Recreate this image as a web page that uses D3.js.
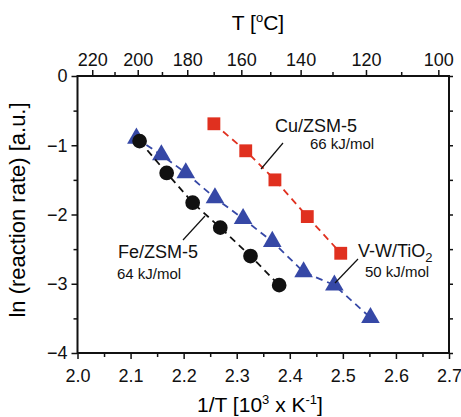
<!DOCTYPE html>
<html>
<head>
<meta charset="utf-8">
<script src="https://cdn.jsdelivr.net/npm/d3@7"></script>
<style>
  body { margin: 0; background: #fff; }
  svg { font-family: "Liberation Sans", Arial, sans-serif; }
</style>
</head>
<body>
<div id="chart"></div>
<script>
// Set SVG area dimensions
var svgWidth = 461;
var svgHeight = 417;

// Data: 1/T [10^3/K] and ln(rate)
var cuX = [2.257, 2.317, 2.372, 2.433, 2.496];
var cuY = [-0.69, -1.08, -1.50, -2.03, -2.56];
var vwX = [2.111, 2.158, 2.204, 2.259, 2.312, 2.367, 2.426, 2.484, 2.552];
var vwY = [-0.90, -1.14, -1.40, -1.76, -2.06, -2.39, -2.83, -3.02, -3.49];
var feX = [2.117, 2.168, 2.217, 2.269, 2.326, 2.380];
var feY = [-0.94, -1.40, -1.83, -2.19, -2.60, -3.02];

// tick labels
var xTicks = [2.0, 2.1, 2.2, 2.3, 2.4, 2.5, 2.6, 2.7];
var xMinor = [2.05, 2.15, 2.25, 2.35, 2.45, 2.55, 2.65];
var yTicks = [0, -1, -2, -3, -4];
var yMinor = [-0.5, -1.5, -2.5, -3.5];
var tempTicks = [220, 200, 180, 160, 140, 120, 100];
var tempMinor = [210, 190, 170, 150, 130, 110];

var plot = { left: 77.5, right: 449, top: 76, bottom: 353 };

var svg = d3.select("#chart")
    .append("svg")
    .attr("width", svgWidth)
    .attr("height", svgHeight);

var xScale = d3.scaleLinear().domain([2.0, 2.7]).range([plot.left, plot.right]);
var yScale = d3.scaleLinear().domain([-4, 0]).range([plot.bottom, plot.top]);
var invT = t => 1000 / (t + 273.15);

function styleAxis(g, fs) {
    g.select(".domain").remove();
    g.selectAll("line").attr("stroke", "#111").attr("stroke-width", 1.5);
    g.selectAll("text").style("font-size", fs).attr("fill", "#111");
}

// bottom axis
svg.append("g")
    .attr("transform", `translate(0, ${plot.bottom})`)
    .call(d3.axisBottom(xScale).tickValues(xTicks).tickFormat(d3.format(".1f")).tickSize(6).tickPadding(10))
    .call(g => styleAxis(g, "18px"));
svg.append("g")
    .attr("transform", `translate(0, ${plot.bottom})`)
    .call(d3.axisBottom(xScale).tickValues(xMinor).tickFormat("").tickSize(4))
    .call(g => styleAxis(g, "18px"));

// top axis (temperature)
svg.append("g")
    .attr("transform", `translate(0, ${plot.top})`)
    .call(d3.axisTop(xScale).tickValues(tempTicks.map(invT)).tickFormat((d, i) => tempTicks[i]).tickSize(6).tickPadding(4))
    .call(g => styleAxis(g, "18px"));
svg.append("g")
    .attr("transform", `translate(0, ${plot.top})`)
    .call(d3.axisTop(xScale).tickValues(tempMinor.map(invT)).tickFormat("").tickSize(4))
    .call(g => styleAxis(g, "18px"));

// left axis
svg.append("g")
    .attr("transform", `translate(${plot.left}, 0)`)
    .call(d3.axisLeft(yScale).tickValues(yTicks).tickFormat(d3.format("d")).tickSize(6).tickPadding(4))
    .call(g => styleAxis(g, "18px"));
svg.append("g")
    .attr("transform", `translate(${plot.left}, 0)`)
    .call(d3.axisLeft(yScale).tickValues(yMinor).tickFormat("").tickSize(4))
    .call(g => styleAxis(g, "18px"));

// right axis (ticks only)
svg.append("g")
    .attr("transform", `translate(${plot.right}, 0)`)
    .call(d3.axisRight(yScale).tickValues(yTicks.concat(yMinor)).tickFormat("").tickSize(4))
    .call(g => styleAxis(g, "18px"));

// frame
svg.append("rect")
    .attr("x", plot.left)
    .attr("y", plot.top)
    .attr("width", plot.right - plot.left)
    .attr("height", plot.bottom - plot.top)
    .attr("fill", "none")
    .attr("stroke", "#111")
    .attr("stroke-width", 2);

// series
var series = [
    { xs: vwX, ys: vwY, color: "#3648a6", shape: d3.symbolTriangle, size: 150 },
    { xs: feX, ys: feY, color: "#111111", shape: d3.symbolCircle, size: 170 },
    { xs: cuX, ys: cuY, color: "#e0301f", shape: d3.symbolSquare, size: 165 }
];

var line = d3.line().x(d => xScale(d[0])).y(d => yScale(d[1]));

series.forEach(function(s) {
    var pts = s.xs.map((x, i) => [x, s.ys[i]]);
    svg.append("path")
        .datum(pts)
        .attr("d", line)
        .attr("fill", "none")
        .attr("stroke", s.color)
        .attr("stroke-width", 1.8)
        .attr("stroke-dasharray", "7,5");
    svg.append("g")
        .selectAll("path")
        .data(pts)
        .enter()
        .append("path")
        .attr("transform", d => `translate(${xScale(d[0])}, ${yScale(d[1])})`)
        .attr("d", d3.symbol().type(s.shape).size(s.size))
        .attr("fill", s.color);
});

// annotations
function label(x, y, txt, fs) {
    return svg.append("text").attr("x", x).attr("y", y).style("font-size", fs).attr("fill", "#111").text(txt);
}
function leader(x1, y1, x2, y2) {
    svg.append("line").attr("x1", x1).attr("y1", y1).attr("x2", x2).attr("y2", y2)
        .attr("stroke", "#111").attr("stroke-width", 1.2);
}

label(275, 132, "Cu/ZSM-5", "18px");
label(310, 149, "66 kJ/mol", "15px");
leader(283, 143, 261, 169);

label(118, 258, "Fe/ZSM-5", "18px");
label(117, 279, "64 kJ/mol", "15px");
leader(205, 216, 183, 240);

var vw = label(358, 257, "V-W/TiO", "18px");
vw.append("tspan").attr("dy", 5).style("font-size", "13px").text("2");
label(365, 277, "50 kJ/mol", "15px");
leader(358, 259, 335, 283);

// axis titles
var topTitle = svg.append("text")
    .attr("x", 258)
    .attr("y", 30)
    .style("text-anchor", "middle")
    .style("font-size", "21px")
    .text("T [");
topTitle.append("tspan").attr("dy", -8).style("font-size", "13px").text("o");
topTitle.append("tspan").attr("dy", 8).text("C]");

var botTitle = svg.append("text")
    .attr("x", 260)
    .attr("y", 412)
    .style("text-anchor", "middle")
    .style("font-size", "21px")
    .text("1/T [10");
botTitle.append("tspan").attr("dy", -8).style("font-size", "13px").text("3");
botTitle.append("tspan").attr("dy", 8).text(" x K");
botTitle.append("tspan").attr("dy", -8).style("font-size", "13px").text("-1");
botTitle.append("tspan").attr("dy", 8).text("]");

svg.append("text")
    .attr("transform", "rotate(-90)")
    .attr("x", -210)
    .attr("y", 25)
    .style("text-anchor", "middle")
    .style("font-size", "22px")
    .text("ln (reaction rate) [a.u.]");
</script>
</body>
</html>
